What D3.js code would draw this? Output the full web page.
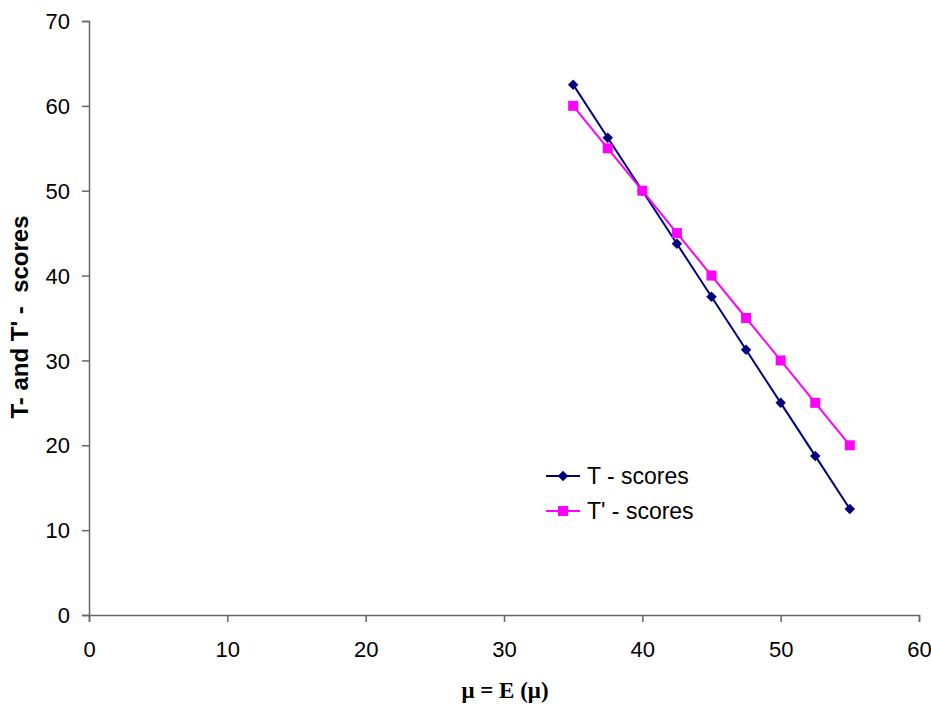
<!DOCTYPE html>
<html lang="en">
<head>
<meta charset="UTF-8">
<title>T and T' scores</title>
<style>
  body { margin: 0; background: #fff; }
  text { font-family: "Liberation Sans", Arial, sans-serif; }
</style>
</head>
<body>
<div id="chart"></div>
<script src="https://d3js.org/d3.v7.min.js"></script>
<script>
const muValues = [35, 37.5, 40, 42.5, 45, 47.5, 50, 52.5, 55];
const tScores = [62.5, 56.25, 50, 43.75, 37.5, 31.25, 25, 18.75, 12.5];
const tPrimeScores = [60, 55, 50, 45, 40, 35, 30, 25, 20];
const xTicks = [0, 10, 20, 30, 40, 50, 60];
const yTicks = [0, 10, 20, 30, 40, 50, 60, 70];
const seriesNames = ["T - scores", "T' - scores"];

const w = 931, h = 715;
const plotLeft = 89, plotRight = 919, plotTop = 21, plotBottom = 615;

const svg = d3.select('#chart').append('svg')
  .attr('width', w).attr('height', h);

const x = d3.scaleLinear().domain([0, 60]).range([plotLeft, plotRight]);
const y = d3.scaleLinear().domain([0, 70]).range([plotBottom, plotTop]);

const xAxis = svg.append('g')
  .attr('transform', `translate(0,${plotBottom})`)
  .call(d3.axisBottom(x).tickValues(xTicks).tickSize(7).tickPadding(19));
const yAxis = svg.append('g')
  .attr('transform', `translate(${plotLeft},0)`)
  .call(d3.axisLeft(y).tickValues(yTicks).tickSize(7).tickPadding(12));

[xAxis, yAxis].forEach(g => {
  g.select('.domain').attr('stroke', '#666').attr('stroke-width', 1.5);
  g.selectAll('.tick line').attr('stroke', '#666').attr('stroke-width', 1.5);
  g.selectAll('.tick text').attr('font-size', 22).attr('fill', '#000')
    .attr('font-family', '"Liberation Sans", Arial, sans-serif');
});
yAxis.selectAll('.tick text').attr('dy', '0.35em');

// axis titles
svg.append('text')
  .attr('x', 505).attr('y', 698)
  .attr('text-anchor', 'middle')
  .attr('font-size', 23).attr('font-weight', 'bold')
  .style('font-family', '"Liberation Serif", "Times New Roman", serif')
  .text('μ = E (μ)');

svg.append('text')
  .attr('transform', `translate(28,317) rotate(-90)`)
  .attr('text-anchor', 'middle')
  .attr('font-size', 24).attr('font-weight', 'bold')
  .style('white-space', 'pre')
  .text("T- and T' -  scores");

const series = [
  { name: seriesNames[0], values: tScores, color: '#000080', symbol: d3.symbolDiamond2, size: 70 },
  { name: seriesNames[1], values: tPrimeScores, color: '#FF00FF', symbol: d3.symbolSquare, size: 100 }
];

const line = d3.line().x(d => x(d[0])).y(d => y(d[1]));

series.forEach(s => {
  const pts = muValues.map((m, i) => [m, s.values[i]]);
  svg.append('path')
    .datum(pts)
    .attr('fill', 'none')
    .attr('stroke', s.color)
    .attr('stroke-width', 2)
    .attr('d', line);
  svg.selectAll(null)
    .data(pts)
    .enter()
    .append('path')
    .attr('transform', d => `translate(${x(d[0])},${y(d[1])})`)
    .attr('d', d3.symbol().type(s.symbol).size(s.size))
    .attr('fill', s.color);
});

// legend
const legend = svg.append('g').attr('transform', 'translate(546,476)');
series.forEach((s, i) => {
  const g = legend.append('g').attr('transform', `translate(0,${i * 35})`);
  g.append('line').attr('x1', 0).attr('x2', 34).attr('y1', 0).attr('y2', 0)
    .attr('stroke', s.color).attr('stroke-width', 2);
  g.append('path').attr('transform', 'translate(17,0)')
    .attr('d', d3.symbol().type(s.symbol).size(s.size)).attr('fill', s.color);
  g.append('text').attr('x', 41).attr('y', 0).attr('dy', '0.35em')
    .attr('font-size', 23).text(s.name);
});
</script>
</body>
</html>
